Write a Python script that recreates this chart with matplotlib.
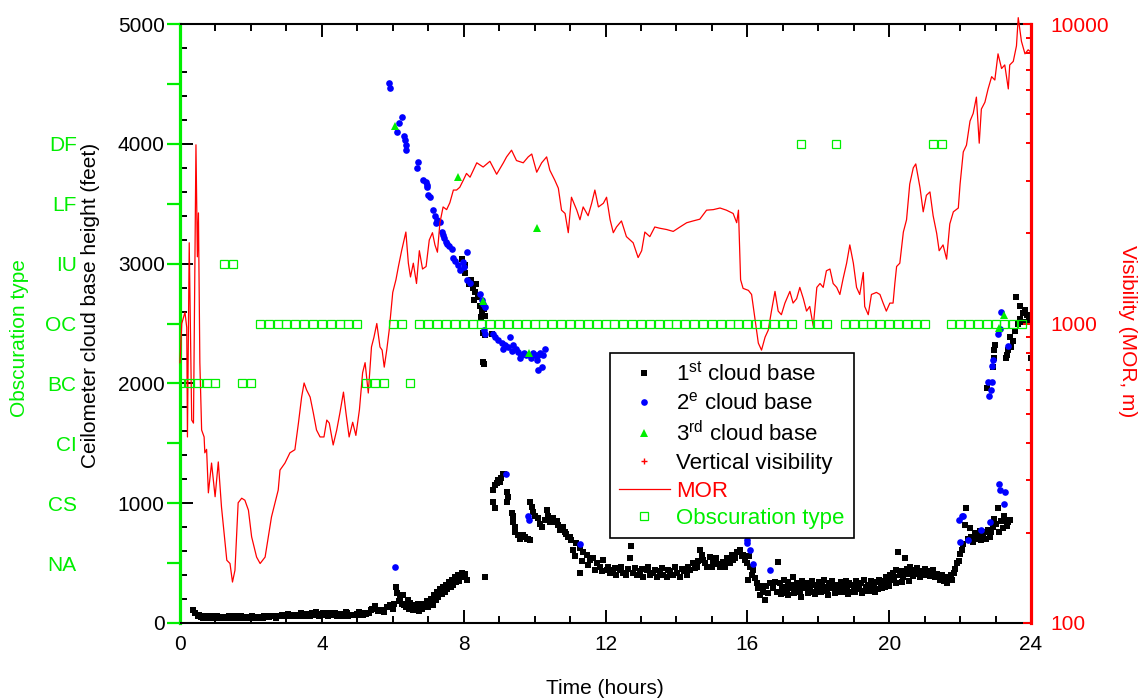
import numpy as np
import matplotlib
matplotlib.use('Agg')
import matplotlib.pyplot as plt
from matplotlib.lines import Line2D
from matplotlib.ticker import MultipleLocator, NullFormatter

plt.rcParams['font.family'] = ['Liberation Sans', 'DejaVu Sans']
plt.rcParams['mathtext.fontset'] = 'custom'
plt.rcParams['mathtext.rm'] = 'Liberation Sans'
plt.rcParams['mathtext.it'] = 'Liberation Sans'

# ---- data ----
# 1st cloud base (feet) vs time (hours)
t1 = [0.38, 0.43, 0.50, 0.58, 0.66, 0.75, 0.83, 0.92, 1.00, 1.08,
      1.17, 1.25, 1.33, 1.42, 1.50, 1.58, 1.67, 1.75, 1.83, 1.92,
      2.00, 2.08, 2.17, 2.25, 2.33, 2.42, 2.50, 2.58, 2.67, 2.75,
      2.83, 2.92, 3.00, 3.08, 3.17, 3.25, 3.33, 3.42, 3.50, 3.58,
      3.67, 3.75, 3.83, 3.92, 4.00, 4.08, 4.17, 4.25, 4.33, 4.42,
      4.50, 4.58, 4.67, 4.75, 4.83, 4.92, 5.00, 5.08, 5.17, 5.25,
      5.33, 5.42, 5.50, 5.58, 5.67, 5.75, 5.83, 5.92, 6.00, 6.04,
      0.54, 0.71, 0.88, 1.04, 1.21, 1.38, 1.54, 1.71, 1.88, 2.04,
      2.21, 2.38, 2.54, 2.71, 2.88, 3.04, 3.21, 3.38, 3.54, 3.71,
      3.88, 4.04, 4.21, 4.38, 4.54, 4.71, 4.88, 5.04, 5.21, 5.38,
      6.08, 6.12, 6.17, 6.21, 6.25, 6.29, 6.33, 6.38, 6.42, 6.46,
      6.50, 6.54, 6.58, 6.63, 6.67, 6.71, 6.75, 6.79, 6.83, 6.88,
      6.92, 6.96, 7.00, 7.04, 7.08, 7.13, 7.17, 7.21, 7.25, 7.29,
      7.33, 7.38, 7.42, 7.46, 7.50, 7.54, 7.58, 7.63, 7.67, 7.71,
      7.75, 7.79, 7.83, 7.88, 7.92, 7.96, 8.00, 8.04, 8.08, 8.60,
      7.94, 8.03, 8.03, 8.15, 8.22, 8.27, 8.31, 8.36, 8.30, 8.40,
      8.45, 8.51, 8.49, 8.56, 8.60, 8.55, 8.60, 8.55, 8.57, 8.79,
      8.84, 8.88, 8.93, 8.97, 9.02, 9.06, 9.10, 9.15, 8.84, 8.88,
      9.21, 9.26, 9.21, 9.35, 9.40, 9.40, 9.45, 9.45, 9.54, 9.64,
      9.73, 9.82, 9.87, 9.87, 9.92, 9.96, 10.01, 10.10, 10.15, 10.20,
      10.29, 10.34, 10.38, 10.48, 10.57, 10.67, 10.76, 10.86, 10.95, 11.04,
      9.59, 9.68, 9.78, 10.43, 10.52, 10.62, 10.71, 10.81, 10.90, 11.00,
      11.09, 11.18, 11.28, 11.37, 11.28, 11.47, 11.56, 11.65, 11.75, 11.84,
      11.94, 12.03, 12.13, 12.22, 12.31, 12.41, 12.50, 12.59, 12.69, 12.73,
      12.78, 12.88, 12.97, 13.07, 13.16, 13.26, 13.35, 13.44, 13.54, 13.63,
      13.73, 13.82, 13.91, 14.01, 14.10, 14.20, 14.29, 14.38, 14.48, 14.57,
      14.67, 14.71, 14.76, 14.85, 14.95, 15.04, 15.13, 15.23, 15.32, 15.42,
      15.51, 15.56, 15.60, 15.70, 15.79, 15.89, 15.94, 15.98, 16.08, 16.12,
      16.17, 16.22, 16.03, 16.26, 16.31, 16.36, 16.45, 16.50, 16.54, 16.64,
      11.14, 11.33, 11.52, 11.70, 11.89, 12.08, 12.27, 12.45, 12.64, 12.83,
      13.02, 13.21, 13.40, 13.58, 13.77, 13.96, 14.15, 14.34, 14.52, 14.62,
      14.81, 15.00, 15.18, 15.37, 15.46, 15.65, 15.84, 16.06, 16.40, 16.59,
      16.73, 16.78, 16.83, 16.87, 16.92, 16.97, 17.02, 17.06, 17.11, 17.16,
      17.21, 17.25, 17.30, 17.35, 17.40, 17.44, 17.49, 17.54, 17.59, 17.63,
      17.68, 17.73, 17.78, 17.82, 17.87, 17.92, 17.97, 18.01, 18.06, 18.11,
      18.16, 18.20, 18.25, 18.30, 18.35, 18.39, 18.44, 18.49, 18.54, 18.58,
      18.63, 18.68, 18.73, 18.77, 18.82, 18.87, 18.92, 18.96, 19.01, 19.06,
      19.11, 19.15, 19.20, 19.25, 19.30, 19.34, 19.39, 19.44, 19.49, 19.53,
      19.58, 19.63, 19.68, 19.72, 19.77, 19.82, 19.87, 19.91, 19.96, 20.01,
      20.06, 20.10, 20.15, 20.20, 20.26, 20.30, 20.35, 20.40, 20.45, 20.49,
      20.54, 20.59, 20.64, 20.68, 20.73, 20.78, 20.83, 20.87, 20.92, 20.97,
      21.02, 21.06, 21.11, 21.16, 21.21, 21.25, 21.30, 21.35, 21.40, 21.44,
      21.49, 21.54, 21.59, 21.63, 21.68, 21.73, 21.78, 21.82, 21.87, 21.92,
      16.95, 17.14, 17.33, 17.52, 17.71, 17.90, 18.09, 18.28, 18.47, 18.66,
      18.85, 19.04, 19.23, 19.42, 19.61, 19.80, 19.99, 20.18, 20.37, 20.56,
      21.96, 22.00, 22.05, 22.09, 22.13, 22.18, 22.22, 22.27, 22.31, 22.36,
      22.41, 22.45, 22.50, 22.55, 22.59, 22.64, 22.69, 22.73, 22.78, 22.83,
      22.87, 22.92, 22.97, 23.01, 23.06, 23.11, 23.15, 23.20, 23.24, 23.29,
      23.32, 23.36, 23.41,
      22.75, 22.94, 22.96, 22.96, 22.98, 23.30, 23.33, 23.36, 23.40, 23.45,
      23.50, 23.54, 23.64, 23.69, 23.69, 23.77, 23.79, 23.84, 23.88, 23.93,
      23.59, 23.98, 24.00]
h1 = [110, 80, 60, 50, 45, 50, 40, 45, 45, 40,
      45, 40, 42, 40, 45, 50, 45, 40, 42, 40,
      38, 40, 42, 40, 45, 50, 48, 55, 55, 60,
      55, 60, 60, 55, 65, 60, 65, 85, 60, 65,
      60, 70, 90, 60, 70, 65, 60, 70, 75, 60,
      70, 55, 90, 60, 70, 65, 75, 70, 65, 75,
      80, 120, 140, 100, 110, 90, 130, 150, 120, 160,
      70, 60, 55, 60, 50, 55, 60, 55, 50, 55,
      50, 55, 60, 45, 70, 75, 70, 60, 75, 80,
      75, 80, 85, 80, 75, 80, 70, 90, 85, 110,
      300, 250, 180, 210, 160, 230, 150, 130, 190, 120,
      170, 140, 110, 150, 130, 160, 100, 150, 120, 160,
      140, 180, 130, 170, 200, 150, 230, 190, 260, 220,
      280, 240, 300, 260, 320, 280, 340, 300, 360, 320,
      380, 340, 400, 350, 390, 420, 380, 410, 360, 380,
      3040, 2990, 2920, 2830, 2860, 2800, 2760, 2830, 2700, 2720,
      2650, 2600, 2555, 2620, 2560, 2420, 2400, 2180, 2160, 2410,
      1110, 1150, 1170, 1195, 1180, 1210, 1240, 1240, 1010, 960,
      1095, 1050, 1010, 915, 890, 845, 805, 760, 735, 720,
      720, 705, 690, 1010, 970, 930, 890, 875, 830, 805,
      860, 940, 890, 875, 845, 815, 790, 760, 720, 690,
      705, 735, 700, 840, 880, 850, 780, 800, 740, 720,
      610, 665, 625, 595, 415, 565, 525, 540, 500, 470,
      525, 440, 415, 440, 400, 440, 415, 400, 540, 640,
      415, 400, 430, 385, 440, 400, 415, 385, 430, 400,
      385, 430, 400, 415, 385, 430, 400, 440, 500, 470,
      610, 565, 525, 470, 555, 500, 540, 470, 510, 540,
      500, 565, 525, 595, 610, 565, 525, 500, 470, 400,
      440, 375, 360, 330, 290, 235, 260, 190, 305, 330,
      560, 520, 480, 440, 430, 470, 455, 470, 450, 460,
      450, 470, 445, 455, 440, 470, 450, 470, 455, 520,
      500, 470, 490, 470, 520, 540, 560, 560, 310, 250,
      290, 345, 260, 510, 330, 280, 360, 300, 250, 340,
      290, 320, 380, 270, 330, 300, 260, 350, 310, 290,
      330, 270, 300, 350, 260, 320, 290, 340, 280, 310,
      360, 300, 270, 330, 290, 350, 310, 260, 320, 300,
      340, 280, 310, 350, 290, 330, 260, 320, 300, 350,
      280, 310, 330, 270, 360, 300, 320, 290, 350, 330,
      300, 340, 280, 360, 320, 350, 300, 380, 340, 400,
      360, 420, 380, 440, 590, 400, 430, 380, 540, 450,
      410, 470, 430, 390, 440, 460, 410, 380, 430, 400,
      450, 410, 430, 390, 420, 440, 380, 410, 390, 360,
      400, 350, 380, 330, 370, 400, 360, 420, 450, 500,
      240, 230, 250, 220, 250, 240, 260, 230, 250, 260,
      240, 260, 250, 270, 260, 290, 310, 330, 340, 350,
      520, 580, 610, 660, 820, 960, 700, 790, 720, 680,
      750, 700, 740, 770, 690, 730, 760, 700, 780, 720,
      760, 800, 870, 830, 960, 760, 850, 790, 890, 860,
      810, 840, 860,
      1960, 2140, 2210, 2280, 2320, 2210, 2240, 2280, 2390, 2300,
      2350, 2440, 2500, 2650, 2540, 2590, 2510, 2610, 2570, 2530,
      2720, 2560, 2210]

# 2nd cloud base
t2 = [5.89, 5.93, 6.05, 6.11, 6.18, 6.27, 6.32, 6.35, 6.37, 6.37,
      6.67, 6.72, 6.86, 6.94, 6.98, 6.96, 7.00, 7.05, 7.13, 7.19,
      7.22, 7.26, 7.33, 7.38, 7.41, 7.45, 7.50, 7.54, 7.60, 7.66,
      7.69, 7.76, 7.85, 7.90, 7.97, 8.01, 8.08, 8.10, 8.18, 8.46,
      8.51, 8.54, 8.61, 8.57, 8.60, 8.84, 8.88, 8.97, 9.07, 9.16,
      9.26, 9.30, 9.40, 9.47, 9.54, 9.63, 9.77, 9.96, 10.06, 10.10,
      10.10, 10.20, 10.24, 10.30, 9.19, 9.82, 9.84, 11.28, 15.98, 16.00,
      16.07, 16.15, 16.64, 21.98, 22.04, 22.07, 22.00, 22.23, 22.58, 22.84,
      23.11, 23.13, 23.24, 23.27, 22.82, 22.88, 22.80, 22.89, 22.90, 22.94,
      23.08, 23.12, 23.15, 23.36, 9.10, 9.35, 9.58, 9.70, 9.90, 10.00,
      10.15]
h2 = [4510, 4465, 470, 4095, 4170, 4220, 4065, 4030, 3990, 3945,
      3800, 3850, 3695, 3680, 3655, 3640, 3570, 3560, 3445, 3395,
      3340, 3360, 3350, 3265, 3235, 3210, 3180, 3160, 3145, 3125,
      3050, 3020, 2985, 2950, 3015, 2970, 3095, 2860, 2835, 2750,
      2700, 2665, 2635, 2445, 2415, 2415, 2390, 2360, 2335, 2320,
      2305, 2390, 2320, 2290, 2265, 2235, 2235, 2255, 2195, 2235,
      2110, 2135, 2235, 2290, 1240, 890, 860, 660, 690, 665,
      610, 490, 440, 860, 895, 890, 680, 695, 780, 845,
      1160, 1110, 990, 1095, 1895, 1945, 2015, 2015, 2145, 2195,
      2415, 2450, 2600, 2310, 2290, 2270, 2215, 2250, 2215, 2235,
      2250]

# 3rd cloud base
t3 = [6.06, 7.85, 8.55, 9.85, 10.06, 23.10, 23.24]
h3 = [4150, 3720, 2690, 2255, 3300, 2460, 2570]

# vertical visibility (no points visible)
tvv = []
hvv = []

# MOR visibility (m)
mor_t = [0.00, 0.05, 0.14, 0.19, 0.21, 0.26, 0.33, 0.38, 0.45, 0.49,
         0.52, 0.56, 0.61, 0.68, 0.70, 0.75, 0.80, 0.89, 0.99, 1.08,
         1.17, 1.32, 1.41, 1.48, 1.55, 1.64, 1.74, 1.83, 1.93, 2.02,
         2.16, 2.26, 2.40, 2.49, 2.58, 2.68, 2.77, 2.82, 2.96, 3.10,
         3.24, 3.34, 3.43, 3.50, 3.57, 3.67, 3.76, 3.85, 3.95, 4.06,
         4.14, 4.21, 4.32, 4.42, 4.51, 4.61, 4.68, 4.77, 4.87, 4.96,
         5.06, 5.15, 5.22, 5.31, 5.40, 5.47, 5.55, 5.64, 5.70, 5.76,
         5.83, 5.90, 6.00, 6.09, 6.16, 6.25, 6.32, 6.37, 6.44, 6.50,
         6.58, 6.67, 6.75, 6.84, 6.94, 7.03, 7.12, 7.19, 7.26, 7.33,
         7.42, 7.52, 7.61, 7.71, 7.80, 7.89, 7.99, 8.08, 8.18, 8.37,
         8.55, 8.74, 8.93, 9.12, 9.21, 9.35, 9.49, 9.68, 9.82, 9.92,
         10.06, 10.20, 10.34, 10.43, 10.57, 10.67, 10.76, 10.86, 10.95, 11.04,
         11.19, 11.28, 11.37, 11.51, 11.61, 11.70, 11.80, 11.94, 12.03, 12.13,
         12.22, 12.31, 12.45, 12.59, 12.78, 12.92, 13.02, 13.11, 13.25, 13.39,
         13.53, 13.72, 13.91, 14.10, 14.29, 14.47, 14.66, 14.85, 15.04, 15.23,
         15.41, 15.60, 15.70, 15.75, 15.81, 15.88, 16.03, 16.12, 16.21, 16.31,
         16.40, 16.50, 16.59, 16.68, 16.78, 16.87, 16.96, 17.06, 17.20, 17.29,
         17.39, 17.48, 17.58, 17.67, 17.76, 17.86, 17.96, 18.05, 18.14, 18.23,
         18.33, 18.42, 18.52, 18.61, 18.70, 18.80, 18.89, 18.99, 19.08, 19.17,
         19.27, 19.31, 19.41, 19.50, 19.64, 19.74, 19.83, 19.92, 20.02, 20.11,
         20.16, 20.21, 20.30, 20.40, 20.49, 20.58, 20.68, 20.75, 20.87, 20.96,
         21.05, 21.15, 21.24, 21.34, 21.41, 21.52, 21.62, 21.71, 21.81, 21.95,
         22.00, 22.09, 22.18, 22.28, 22.37, 22.46, 22.54, 22.60, 22.70, 22.79,
         22.89, 22.98, 23.07, 23.17, 23.26, 23.36, 23.40, 23.50, 23.59, 23.64,
         23.73, 23.83, 23.92, 24.00]
mor_m = [740, 1000, 1090, 970, 418, 1860, 476, 465, 3950, 1670,
         2340, 740, 441, 418, 370, 380, 272, 342, 264, 345,
         244, 162, 158, 137, 150, 252, 261, 257, 238, 194,
         166, 158, 166, 194, 226, 252, 278, 324, 342, 370,
         379, 465, 568, 633, 600, 568, 503, 441, 418, 418,
         476, 465, 393, 441, 503, 590, 503, 418, 468, 423,
         515, 685, 740, 586, 835, 900, 1000, 835, 815, 715,
         815, 950, 1270, 1400, 1550, 1750, 1900, 2020, 1590, 1430,
         1590, 1360, 1750, 1520, 1550, 1900, 2010, 1830, 1730, 2170,
         2450, 2400, 2530, 2790, 2790, 2850, 3010, 3170, 3080, 3440,
         3330, 3480, 3150, 3440, 3600, 3790, 3500, 3440, 3600, 3680,
         3200, 3440, 3600, 3250, 3010, 2830, 2390, 2330, 2010, 2640,
         2390, 2220, 2450, 2290, 2520, 2790, 2450, 2520, 2640, 2220,
         2010, 2100, 2200, 1950, 1860, 1660, 1750, 2020, 1950, 2100,
         2080, 2060, 2030, 2100, 2170, 2200, 2230, 2390, 2400, 2430,
         2390, 2330, 2170, 2390, 1400, 1310, 1290, 1250, 1050, 860,
         815, 900, 950, 1100, 1280, 1100, 1070, 1170, 1280, 1170,
         1210, 1320, 1210, 1100, 1140, 980, 1320, 1360, 1320, 1500,
         1520, 1360, 1320, 1250, 1410, 1590, 1830, 1590, 1320, 1250,
         1480, 1140, 1070, 1250, 1270, 1250, 1170, 1100, 1170, 1170,
         1360, 1550, 1590, 2020, 2220, 2920, 3310, 3410, 2840, 2360,
         2680, 2750, 2290, 2000, 1750, 1830, 1640, 2150, 2360, 2430,
         2920, 3740, 3940, 4740, 5030, 5700, 4000, 5200, 5480, 6070,
         6670, 6500, 7950, 7100, 7300, 6070, 7300, 7500, 8450, 10500,
         8760, 7950, 8200, 8050]

# obscuration type, one report every 15 minutes
obs_codes = ['NA', 'CS', 'CI', 'BC', 'OC', 'IU', 'LF', 'DF']
obs_t = [0.00, 0.25, 0.50, 0.75, 1.00, 1.25, 1.50, 1.75,
         2.00, 2.25, 2.50, 2.75, 3.00, 3.25, 3.50, 3.75,
         4.00, 4.25, 4.50, 4.75, 5.00, 5.25, 5.50, 5.75,
         6.00, 6.25, 6.50, 6.75, 7.00, 7.25, 7.50, 7.75,
         8.00, 8.25, 8.50, 8.75, 9.00, 9.25, 9.50, 9.75,
         10.00, 10.25, 10.50, 10.75, 11.00, 11.25, 11.50, 11.75,
         12.00, 12.25, 12.50, 12.75, 13.00, 13.25, 13.50, 13.75,
         14.00, 14.25, 14.50, 14.75, 15.00, 15.25, 15.50, 15.75,
         16.00, 16.25, 16.50, 16.75, 17.00, 17.25, 17.50, 17.75,
         18.00, 18.25, 18.50, 18.75, 19.00, 19.25, 19.50, 19.75,
         20.00, 20.25, 20.50, 20.75, 21.00, 21.25, 21.50, 21.75,
         22.00, 22.25, 22.50, 22.75, 23.00, 23.25, 23.50, 23.75]
obs_type = ('BC BC BC BC BC IU IU BC '
            'BC OC OC OC OC OC OC OC '
            'OC OC OC OC OC BC BC BC '
            'OC OC BC OC OC OC OC OC '
            'OC OC OC OC OC OC OC OC '
            'OC OC OC OC OC OC OC OC '
            'OC OC OC OC OC OC OC OC '
            'OC OC OC OC OC OC OC OC '
            'OC OC OC OC OC OC DF OC '
            'OC OC DF OC OC OC OC OC '
            'OC OC OC OC OC DF DF OC '
            'OC OC OC OC OC OC OC OC').split()

GREEN = '#00ee00'
RED = '#ff0000'
FS = 15

fig = plt.figure(figsize=(11.41, 7.0), dpi=100)
ax = fig.add_axes([180 / 1141, 77 / 700, 851 / 1141, 599 / 700])

ax.plot(t1, h1, 's', color='k', ms=4.3, mew=0, zorder=3)
ax.plot(t2, h2, 'o', color='#0000ff', ms=4.8, mew=0, zorder=4)
ax.plot(t3, h3, '^', color=GREEN, ms=6.3, mew=0, zorder=5)
ax.plot(tvv, hvv, '+', color=RED, ms=5)

ax.set_xlim(0, 24)
ax.set_ylim(0, 5000)
ax.xaxis.set_major_locator(MultipleLocator(4))
ax.xaxis.set_minor_locator(MultipleLocator(1))
ax.yaxis.set_major_locator(MultipleLocator(1000))
ax.yaxis.set_minor_locator(MultipleLocator(200))
ax.tick_params(axis='x', which='both', direction='in', top=True, width=1.4,
               labelsize=FS, pad=9)
ax.tick_params(axis='y', which='both', direction='in', right=False, width=1.4,
               labelsize=FS, pad=11)
ax.tick_params(which='major', length=9.4)
ax.tick_params(which='minor', length=4.7)
for s in ['top', 'bottom']:
    ax.spines[s].set_linewidth(1.5)
ax.spines['left'].set_color(GREEN)
ax.spines['left'].set_linewidth(2.3)
ax.spines['right'].set_visible(False)

# visibility on log axis
ax2 = ax.twinx()
ax2.plot(mor_t, mor_m, '-', color=RED, lw=0.9, clip_on=False)
ax2.set_yscale('log')
ax2.set_ylim(100, 10000)
ax2.set_yticks([100, 1000, 10000], ['100', '1000', '10000'])
ax2.set_yticks([200, 300, 400, 500, 600, 700, 800, 900,
                2000, 3000, 4000, 5000, 6000, 7000, 8000, 9000], minor=True)
ax2.yaxis.set_minor_formatter(NullFormatter())
ax2.tick_params(axis='y', which='both', direction='in', color=RED,
                labelcolor=RED, labelsize=FS, width=1.4, pad=14)
ax2.tick_params(which='major', length=6)
ax2.tick_params(which='minor', length=3.6)
for s in ['left', 'top', 'bottom']:
    ax2.spines[s].set_visible(False)
ax2.spines['right'].set_color(RED)
ax2.spines['right'].set_linewidth(2.3)

# obscuration type on categorical axis
ax3 = ax.twinx()
obs_y = [obs_codes.index(c) + 1 for c in obs_type]
ax3.plot(obs_t, obs_y, 's', mfc='none', mec=GREEN, ms=6, mew=0.9)
ax3.set_ylim(0, 10)
ax3.set_yticks(np.arange(11), [''] + obs_codes + ['', ''])
ax3.yaxis.set_ticks_position('left')
for s in ax3.spines.values():
    s.set_visible(False)
ax3.tick_params(axis='y', direction='out', length=9.4, width=1.6,
                color=GREEN, labelcolor=GREEN, labelsize=FS, pad=65)

fig.text(605 / 1141, 1 - 688 / 700, 'Time (hours)', ha='center', va='center',
         fontsize=FS)
fig.text(91 / 1141, 1 - 305 / 700, 'Ceilometer cloud base height (feet)',
         rotation=90, ha='center', va='center', fontsize=FS)
fig.text(20 / 1141, 1 - 338 / 700, 'Obscuration type', rotation=90,
         ha='center', va='center', fontsize=FS, color=GREEN)
fig.text(1127 / 1141, 1 - 331 / 700, 'Visibility (MOR, m)', rotation=270,
         ha='center', va='center', fontsize=FS, color=RED)

handles = [
    Line2D([], [], ls='none', marker='s', color='k', ms=4.3, mew=0),
    Line2D([], [], ls='none', marker='o', color='#0000ff', ms=4.8, mew=0),
    Line2D([], [], ls='none', marker='^', color=GREEN, ms=6.3, mew=0),
    Line2D([], [], ls='none', marker='+', color=RED, ms=5, mew=1),
    Line2D([], [], ls='-', color=RED, lw=0.9),
    Line2D([], [], ls='none', marker='s', mfc='none', mec=GREEN, ms=6, mew=0.9),
]
labels = [r'1$^{\mathrm{st}}$ cloud base', r'2$^{\mathrm{e}}$ cloud base',
          r'3$^{\mathrm{rd}}$ cloud base', 'Vertical visibility', 'MOR',
          'Obscuration type']
leg = ax3.legend(handles, labels, loc='upper left', bbox_to_anchor=(0.505, 0.451),
                 fontsize=16, frameon=True, fancybox=False, edgecolor='k',
                 framealpha=1, handlelength=2.3, handletextpad=0.3,
                 labelspacing=0.3, borderpad=0.4, borderaxespad=0)
leg.get_frame().set_linewidth(1.2)
for txt, c in zip(leg.get_texts(), ['k', 'k', 'k', 'k', RED, GREEN]):
    txt.set_color(c)

fig.savefig('out.png', dpi=100)
